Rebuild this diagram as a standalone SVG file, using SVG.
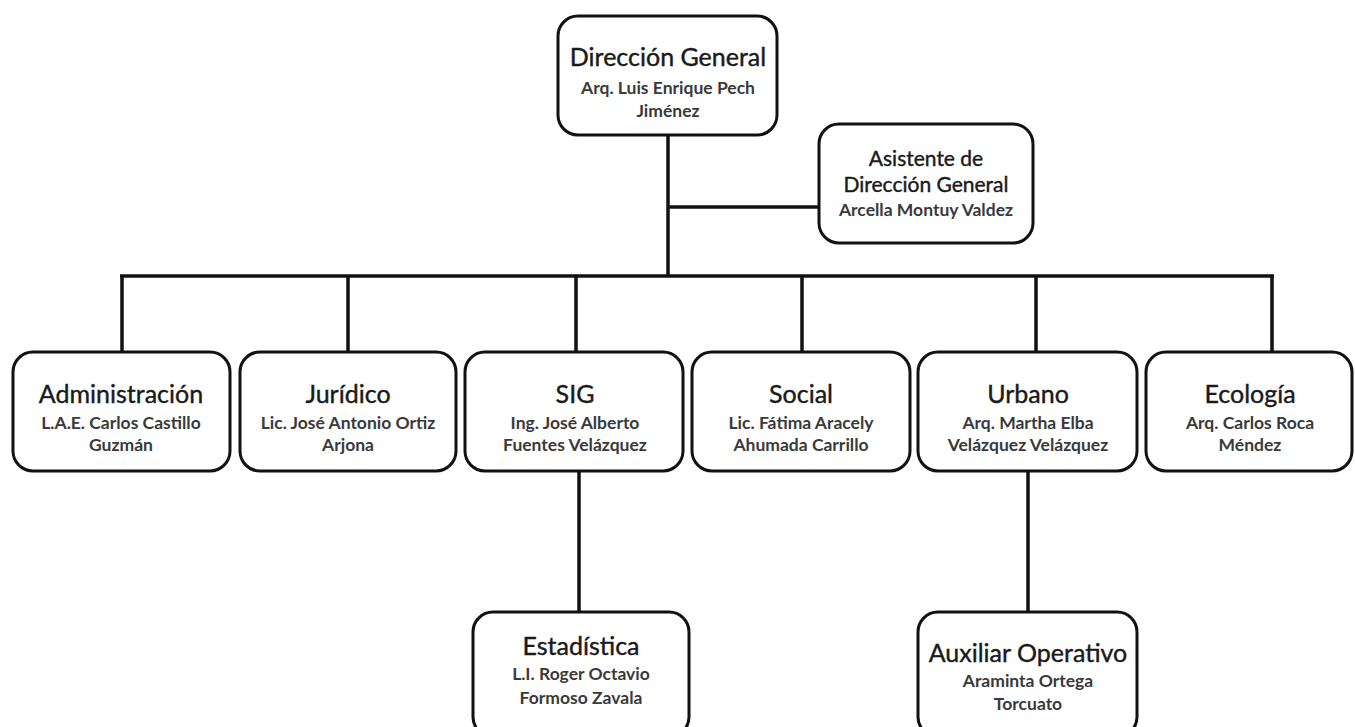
<svg xmlns="http://www.w3.org/2000/svg" width="1355" height="727" viewBox="0 0 1355 727">
<style>
.box{fill:#fff;stroke:#111;stroke-width:3}
.t{font-family:Lato,"Open Sans","Liberation Sans",sans-serif;font-size:25px;fill:#1a1a1a;stroke:#1a1a1a;stroke-width:0.4;text-anchor:middle;dominant-baseline:central}
.a{font-size:21px}
.s{font-family:Lato,"Open Sans","Liberation Sans",sans-serif;font-size:17.5px;font-weight:bold;fill:#3a3a3a;text-anchor:middle;dominant-baseline:central}
.c{stroke:#111;stroke-width:3.5;fill:none}
</style>
<rect width="1355" height="727" fill="#fff"/>
<g id="connectors">
<line class="c" x1="668" y1="135" x2="668" y2="276"/>
<line class="c" x1="668" y1="207" x2="819" y2="207"/>
<line class="c" x1="120" y1="276" x2="1274" y2="276"/>
<line class="c" x1="122" y1="276" x2="122" y2="352"/>
<line class="c" x1="348" y1="276" x2="348" y2="352"/>
<line class="c" x1="576" y1="276" x2="576" y2="352"/>
<line class="c" x1="802" y1="276" x2="802" y2="352"/>
<line class="c" x1="1036" y1="276" x2="1036" y2="352"/>
<line class="c" x1="1272" y1="276" x2="1272" y2="352"/>
<line class="c" x1="579" y1="472" x2="579" y2="612"/>
<line class="c" x1="1028" y1="472" x2="1028" y2="612"/>
</g>
<g id="direccion">
<rect class="box" x="558" y="16" width="219" height="119" rx="20"/>
<text class="t" x="668" y="56">Dirección General</text>
<text class="s" x="668" y="87">Arq. Luis Enrique Pech</text>
<text class="s" x="668" y="110">Jiménez</text>
</g>
<g id="asistente">
<rect class="box" x="819" y="124" width="214" height="119" rx="20"/>
<text class="t a" x="926" y="157">Asistente de</text>
<text class="t a" x="926" y="183">Dirección General</text>
<text class="s" x="926" y="209">Arcella Montuy Valdez</text>
</g>
<g id="administracion">
<rect class="box" x="13" y="352" width="217" height="119" rx="20"/>
<text class="t" x="121" y="393">Administración</text>
<text class="s" x="121" y="422">L.A.E. Carlos Castillo</text>
<text class="s" x="121" y="444">Guzmán</text>
</g>
<g id="juridico">
<rect class="box" x="240" y="352" width="216" height="119" rx="20"/>
<text class="t" x="348" y="393">Jurídico</text>
<text class="s" x="348" y="422">Lic. José Antonio Ortiz</text>
<text class="s" x="348" y="444">Arjona</text>
</g>
<g id="sig">
<rect class="box" x="465" y="352" width="218" height="119" rx="20"/>
<text class="t" x="575" y="393">SIG</text>
<text class="s" x="575" y="422">Ing. José Alberto</text>
<text class="s" x="575" y="444">Fuentes Velázquez</text>
</g>
<g id="social">
<rect class="box" x="692" y="352" width="218" height="119" rx="20"/>
<text class="t" x="801" y="393">Social</text>
<text class="s" x="801" y="422">Lic. Fátima Aracely</text>
<text class="s" x="801" y="444">Ahumada Carrillo</text>
</g>
<g id="urbano">
<rect class="box" x="918" y="352" width="219" height="119" rx="20"/>
<text class="t" x="1028" y="393">Urbano</text>
<text class="s" x="1028" y="422">Arq. Martha Elba</text>
<text class="s" x="1028" y="444">Velázquez Velázquez</text>
</g>
<g id="ecologia">
<rect class="box" x="1146" y="352" width="206" height="119" rx="20"/>
<text class="t" x="1250" y="393">Ecología</text>
<text class="s" x="1250" y="422">Arq. Carlos Roca</text>
<text class="s" x="1250" y="444">Méndez</text>
</g>
<g id="estadistica">
<rect class="box" x="473" y="612" width="216" height="125" rx="20"/>
<text class="t" x="581" y="645">Estadística</text>
<text class="s" x="581" y="673">L.I. Roger Octavio</text>
<text class="s" x="581" y="697">Formoso Zavala</text>
</g>
<g id="auxiliar">
<rect class="box" x="918" y="612" width="219" height="125" rx="20"/>
<text class="t" x="1028" y="652">Auxiliar Operativo</text>
<text class="s" x="1028" y="680">Araminta Ortega</text>
<text class="s" x="1028" y="703">Torcuato</text>
</g>
</svg>
